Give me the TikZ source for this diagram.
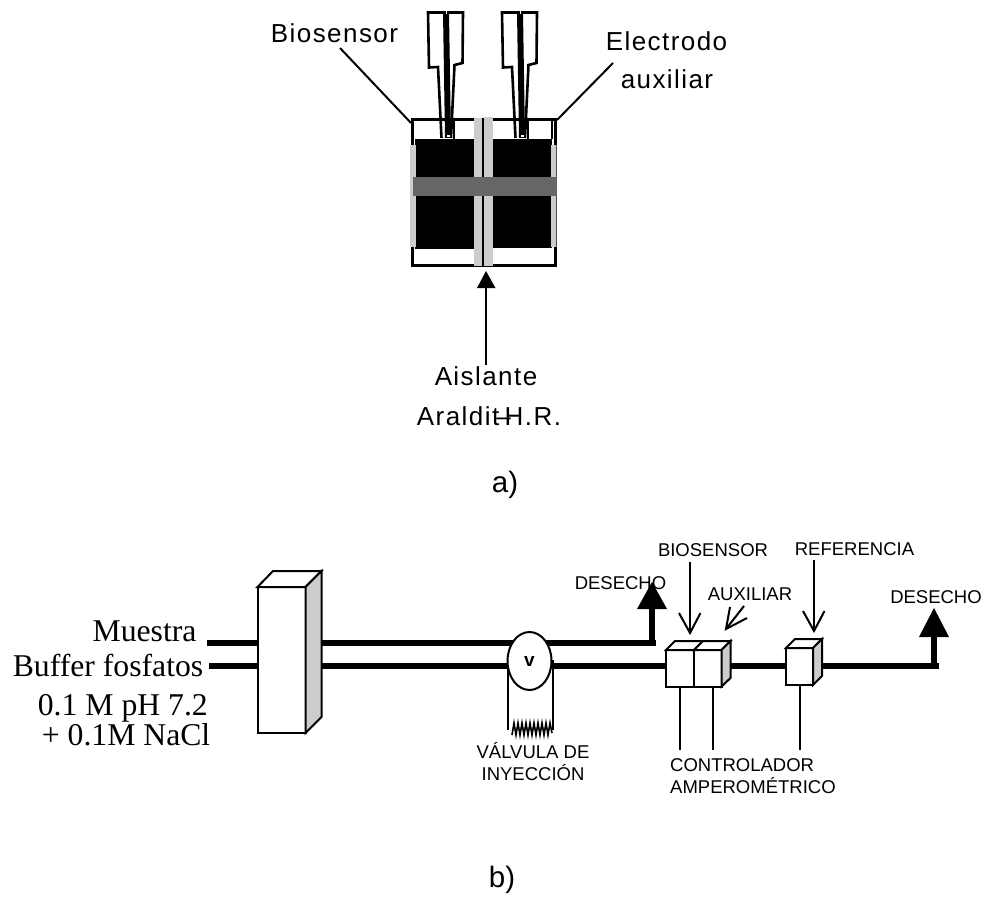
\documentclass[tikz,border=0pt]{standalone}
\usepackage{fontspec}
\setmainfont{Liberation Sans}
\newfontfamily\serfont{Liberation Serif}
\newfontfamily\spaced[LetterSpace=5.5]{Liberation Sans}
\usetikzlibrary{calc,shapes.geometric}
\tikzset{
  x=1pt,y=-1pt,
  pipe/.style={line width=6.7pt,line cap=butt},
  wire/.style={line width=2pt},
  leader/.style={line width=2pt},
  boxline/.style={line width=2pt,draw=black,line join=miter},
  gothtext/.style={inner sep=0,font=\spaced\fontsize{26}{26}\selectfont},
  serflabel/.style={inner sep=0,anchor=base east,font=\serfont\fontsize{31.7}{32}\selectfont},
  smalllabel/.style={inner sep=0,anchor=base,font=\fontsize{18.5}{18.5}\selectfont},
  biglabel/.style={inner sep=0,anchor=base,font=\fontsize{29.5}{30}\selectfont},
  head/.style={fill=black,draw=none},
  elec/.style={line width=2.6pt,line join=miter},
}
\begin{document}
\begin{tikzpicture}
\useasboundingbox (0,0) rectangle (985,915);
% ---- cell
\fill[white] (412,119) rectangle (556,265);
\draw[line width=3pt] (412.5,119.5) rectangle (555.5,265);
\fill[black] (415,139) rectangle (474,249);
\fill[black] (493,139) rectangle (552,248);
\fill[black!20] (410,145) rectangle (416,247);
\fill[black!20] (551,145) rectangle (556,247);
\draw[line width=0.8pt,black!70] (556,145) -- (556,247);
\draw[line width=2pt] (552,120) -- (552,139);
\fill[black!20] (474,118) rectangle (482,266);
\fill[black] (482,118) rectangle (483.5,266);
\fill[black!20] (483.5,117) rectangle (493,266);
\fill[black!60] (413,177) rectangle (557,196);
% ---- electrodes
\foreach \d in {0,74}{
  \begin{scope}[xshift=\d pt]
  \draw[elec] (441.5,138) -- (438,67) -- (429,67.5) -- (428,12.5) -- (463,12.5) -- (462.5,63) -- (454.5,65) -- (451,138);
  \fill[black] (443,12) -- (449,12) -- (451,138) -- (445,138) -- cycle;
  \draw[line width=2pt] (454,119) -- (454,139);
  \fill[white] (447,135.5) rectangle (450,137.5);
  \fill[white] (445.5,11) rectangle (446.2,14);
  \end{scope}
}
% ---- leaders and labels, top
\node[gothtext] (biotxt) at (334.5,33) {Biosensor};
\node[gothtext] (electxt) at (666.5,41) {Electrodo};
\node[gothtext] (auxtxt) at (667,79) {auxiliar};
\node[gothtext] (aistxt) at (486,376) {Aislante};
\node[gothtext] (aratxt) at (489,416) {Araldit\kern-3pt–\kern-6pt H.R.};
\coordinate (biostart) at (340,48);
\coordinate (bioend) at (411,123);
\coordinate (elestart) at (613,63);
\coordinate (eleend) at (557,120);
\draw[leader] (biostart) -- (bioend);
\draw[leader] (elestart) -- (eleend);
\coordinate (aisstart) at (486,365);
\coordinate (aisend) at (486,288);
\draw[leader] (aisstart) -- (aisend);
\fill[head] (486,271) -- (495.5,288) -- (477,288) -- cycle;
\node[biglabel] (alabel) at (505,492) {a)};
\node[biglabel] (blabel) at (502,887) {b)};
% ---- flow labels
\node[serflabel] (muestra) at (196.7,641.7) {Muestra};
\node[serflabel] (buffer) at (203.5,676) {Buffer fosfatos};
\node[serflabel] (phtxt) at (208,715) {0.1 M pH 7.2};
\node[serflabel] (natxt) at (210.5,745) {+ 0.1M NaCl};
\node[smalllabel] (des1) at (620.5,589.5) {DESECHO};
\node[smalllabel] (des2) at (936,603.5) {DESECHO};
\node[smalllabel] (biolab) at (713,556.5) {BIOSENSOR};
\node[smalllabel] (reflab) at (854.5,555.5) {REFERENCIA};
\node[smalllabel] (auxlab) at (750,600.5) {AUXILIAR};
\node[smalllabel] (val1) at (533,758.5) {VÁLVULA DE};
\node[smalllabel] (val2) at (533,780) {INYECCIÓN};
\node[smalllabel,anchor=base west] (con1) at (670,771.7) {CONTROLADOR};
\node[smalllabel,anchor=base west] (con2) at (670,793) {AMPEROMÉTRICO};
% ---- pipes
\coordinate (upin) at (207,643);
\coordinate (lowin) at (209,666);
\coordinate (upcor) at (652,643);
\coordinate (upend) at (655.5,643);
\coordinate (uptop) at (652,609);
\coordinate (b1) at (666,666);
\coordinate (b2) at (731,666);
\coordinate (b3) at (786,666);
\coordinate (b4) at (822,666);
\coordinate (lastend) at (938.5,666);
\coordinate (lastcor) at (934,666);
\coordinate (lasttop) at (934,637);
\draw[pipe] (upin) -- (upend);
\draw[pipe] (lowin) -- (b1);
\draw[pipe] (upcor) -- (uptop);
\draw[pipe] (b2) -- (b3);
\draw[pipe] (b4) -- (lastend);
\draw[pipe] (lastcor) -- (lasttop);
\fill[head] (652,582) -- (667,609) -- (637,609) -- cycle;
\fill[head] (934,608) -- (949,637) -- (919,637) -- cycle;
% ---- column
\draw[boxline,fill=white] (257.5,587) rectangle (305.5,733);
\draw[boxline,fill=white] (257.5,587) -- (273,571) -- (321.5,571) -- (305.5,587) -- cycle;
\draw[boxline,fill=black!20] (305.5,587) -- (321.5,571) -- (321.5,717) -- (305.5,733) -- cycle;
% ---- valve
\coordinate (vl) at (508,660);
\coordinate (vlb) at (508,730);
\coordinate (vr) at (552.5,660);
\coordinate (vrb) at (552.5,730);
\draw[wire] (vl) -- (vlb);
\draw[wire] (vr) -- (vrb);
\node[ellipse,draw,line width=2pt,fill=white,minimum width=44pt,minimum height=58pt,inner sep=0,font=\bfseries\fontsize{19}{19}\selectfont] (valve) at (529.5,661) {v};
\draw[line width=1.6pt] (512,735) -- (514,723) -- (516,735) -- (518,723) -- (520,735) -- (522,723) -- (524,735) -- (526,723) -- (528,735) -- (530,723) -- (532,735) -- (534,723) -- (536,735) -- (538,723) -- (540,735) -- (542,723) -- (544,735) -- (546,723) -- (548,735) -- (550,723) -- (552,733);
% ---- detectors
\draw[boxline,fill=white] (666,650) rectangle (694,686.5);
\draw[boxline,fill=white] (694,650) rectangle (721.5,686.5);
\draw[boxline,fill=white] (666,650) -- (675,641) -- (703,641) -- (694,650) -- cycle;
\draw[boxline,fill=white] (694,650) -- (703,641) -- (730.5,641) -- (721.5,650) -- cycle;
\draw[boxline,fill=black!20] (721.5,650) -- (730.5,641) -- (730.5,678) -- (721.5,686.5) -- cycle;
\draw[boxline,fill=white] (786,648) rectangle (813,685);
\draw[boxline,fill=white] (786,648) -- (795,639) -- (822,639) -- (813,648) -- cycle;
\draw[boxline,fill=black!20] (813,648) -- (822,639) -- (822,676) -- (813,685) -- cycle;
\coordinate (w1t) at (680,686.5);
\coordinate (w1b) at (680,750);
\coordinate (w2t) at (713,686.5);
\coordinate (w2b) at (713,750);
\coordinate (w3t) at (800,686);
\coordinate (w3b) at (800,750);
\draw[wire] (w1t) -- (w1b);
\draw[wire] (w2t) -- (w2b);
\draw[wire] (w3t) -- (w3b);
% ---- open arrows
\coordinate (a1s) at (690,562);
\coordinate (a1t) at (690,633);
\coordinate (a2s) at (814,560);
\coordinate (a2t) at (814,631);
\coordinate (a3s) at (744,606);
\coordinate (a3t) at (726,629);
\draw[wire] (a1s) -- (a1t);
\draw[wire] (679,613) -- (a1t) -- (700.5,613);
\draw[wire] (a2s) -- (a2t);
\draw[wire] (803,611) -- (a2t) -- (824.5,611);
\draw[wire] (a3s) -- (a3t);
\draw[wire] (730,607) -- (a3t) -- (747,618);
\end{tikzpicture}
\end{document}
